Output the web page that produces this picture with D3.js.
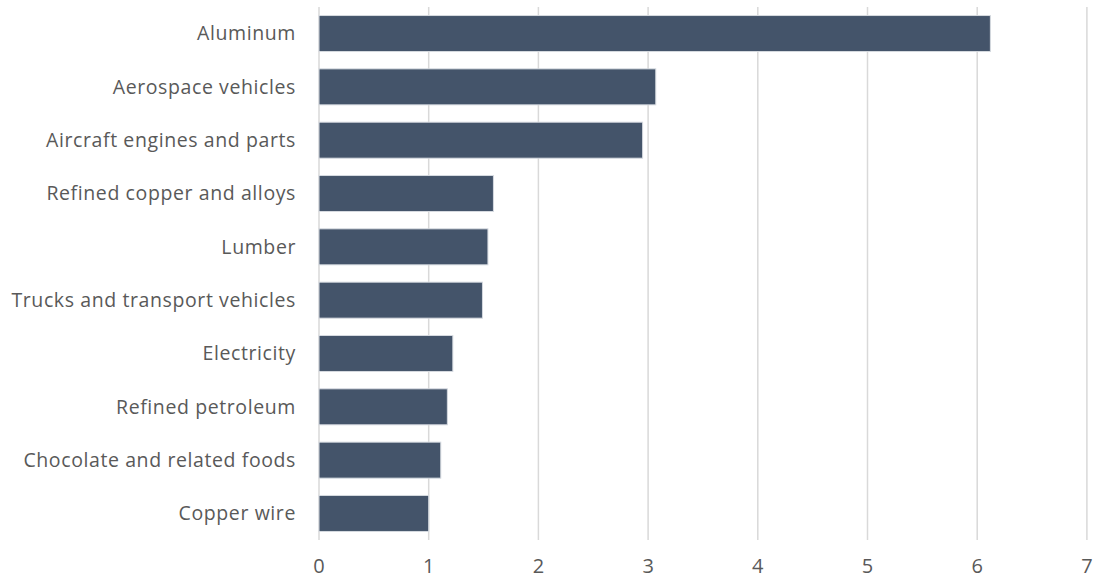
<!DOCTYPE html>
<html>
<head>
<meta charset="utf-8">
<script src="https://cdn.jsdelivr.net/npm/d3@7"></script>
<style>
  body { margin: 0; background: #fff; }
  text { font-family: "Open Sans", sans-serif; fill: #595959; }
</style>
</head>
<body>
<div id="BAR_CHART"></div>
<script>
var categories = ["Aluminum", "Aerospace vehicles", "Aircraft engines and parts", "Refined copper and alloys",
    "Lumber", "Trucks and transport vehicles", "Electricity", "Refined petroleum",
    "Chocolate and related foods", "Copper wire"];
var values = [6.12, 3.07, 2.95, 1.59, 1.54, 1.49, 1.22, 1.17, 1.11, 1.00];
var tickValues = [0, 1, 2, 3, 4, 5, 6, 7];

var WIDTH = 1095, HEIGHT = 580;
var MARGIN = { TOP: 7, RIGHT: 8, BOTTOM: 40, LEFT: 319 };

var svg = d3.select("#BAR_CHART")
    .append("svg")
    .attr("width", WIDTH)
    .attr("height", HEIGHT);

var x = d3.scaleLinear()
    .domain([0, 7])
    .range([MARGIN.LEFT, MARGIN.LEFT + 7 * 109.7]);

var y = d3.scaleBand()
    .domain(categories)
    .range([MARGIN.TOP, 540])
    .paddingInner(0.325)
    .paddingOuter(0.16);

// gridlines
svg.selectAll("grid")
    .data(tickValues)
    .enter()
    .append("line")
    .attr("x1", function(d) { return x(d); })
    .attr("x2", function(d) { return x(d); })
    .attr("y1", MARGIN.TOP)
    .attr("y2", 540)
    .attr("stroke", "#d9d9d9")
    .attr("stroke-width", 1.5);

// bars
svg.selectAll("bars")
    .data(values)
    .enter()
    .append("rect")
    .attr("x", x(0))
    .attr("y", function(d, i) { return y(categories[i]); })
    .attr("width", function(d) { return x(d) - x(0); })
    .attr("height", y.bandwidth())
    .attr("fill", "#44546a")
    .attr("stroke", "#d6dae0")
    .attr("stroke-width", 1);

// category labels
svg.selectAll("catLabels")
    .data(categories)
    .enter()
    .append("text")
    .text(function(d) { return d; })
    .attr("x", MARGIN.LEFT - 23)
    .attr("y", function(d) { return y(d) + y.bandwidth() / 2; })
    .attr("dy", "0.35em")
    .attr("text-anchor", "end")
    .style("font-size", "19.5px")
    .style("letter-spacing", "0.6px");

// x tick labels
svg.selectAll("tickLabels")
    .data(tickValues)
    .enter()
    .append("text")
    .text(function(d) { return d; })
    .attr("x", function(d) { return x(d); })
    .attr("y", 566)
    .attr("dy", "0.35em")
    .attr("text-anchor", "middle")
    .style("font-size", "20px");
</script>
</body>
</html>
